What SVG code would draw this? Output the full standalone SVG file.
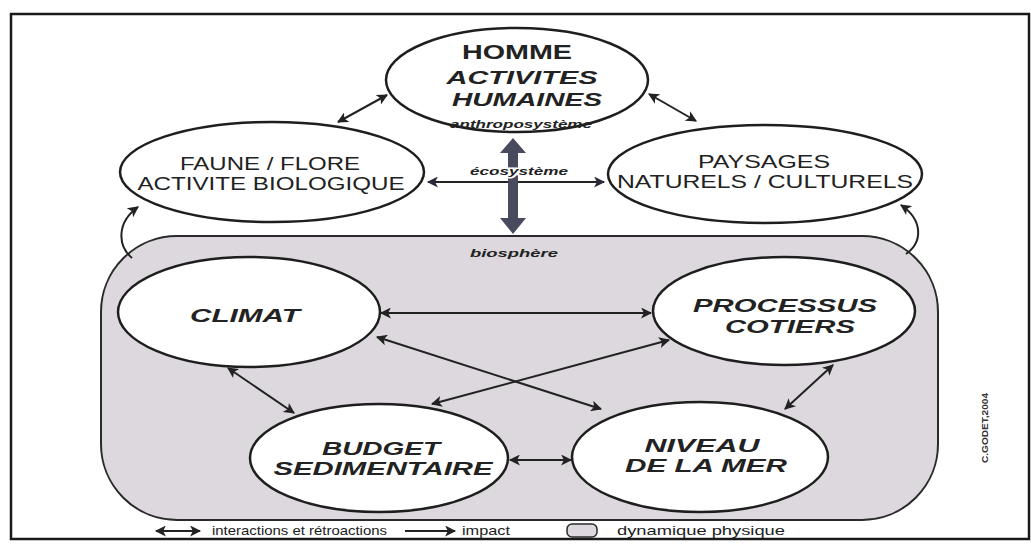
<svg xmlns="http://www.w3.org/2000/svg" width="1031" height="551" viewBox="0 0 1031 551">
<defs>
<marker id="ah" viewBox="0 0 10 10" refX="9" refY="5" markerUnits="userSpaceOnUse" markerWidth="16" markerHeight="11" orient="auto-start-reverse">
<path d="M0,0 L10,5 L0,10 L2.5,5 z" fill="#222"/>
</marker>
<marker id="ah2" viewBox="0 0 10 10" refX="9" refY="5" markerUnits="userSpaceOnUse" markerWidth="13" markerHeight="11" orient="auto-start-reverse">
<path d="M0,0 L10,5 L0,10 L2.5,5 z" fill="#2a2a3a"/>
</marker>
<style>
.el{fill:#fff;stroke:#1e1e1e;stroke-width:2.5}
.ln{fill:none;stroke:#222;stroke-width:2}
.t{font-family:"Liberation Sans",Arial,sans-serif;fill:#222;text-anchor:middle}
.bi{font-weight:bold;font-style:italic;font-size:19px}
.rg{font-size:18px}
.sm{font-family:"Liberation Sans",Arial,sans-serif;font-weight:bold;font-style:italic;font-size:10px;fill:#222;text-anchor:middle}
.lg{font-family:"Liberation Sans",Arial,sans-serif;font-size:13px;fill:#222}
</style>
</defs>
<rect x="11" y="14" width="1018" height="525" fill="#fff" stroke="#1a1a1a" stroke-width="2.5"/>
<g id="dynamique-physique">
<rect x="101" y="236" width="837" height="284" rx="76" ry="76" fill="#dcd8de" stroke="#2a2a2a" stroke-width="2"/>
<text class="sm" x="514" y="257" textLength="88" lengthAdjust="spacingAndGlyphs">biosphère</text>
</g>
<g id="connectors">
<line class="ln" x1="338" y1="122" x2="387" y2="95" marker-start="url(#ah)" marker-end="url(#ah)"/>
<line class="ln" x1="649" y1="94" x2="696" y2="121" marker-start="url(#ah)" marker-end="url(#ah)"/>
<line class="ln" x1="428" y1="182" x2="604" y2="182" stroke="#2a2a3a" marker-start="url(#ah2)" marker-end="url(#ah2)"/>
<path d="M508,152 L518,152 L518,218 L526,218 L513,234 L500,218 L508,218 Z M513,138 L526,153 L500,153 Z" fill="#4a4a5e"/>
<path class="ln" d="M132,258 C117,245 117,222 138,207" stroke-width="3" marker-end="url(#ah)"/>
<path class="ln" d="M906,254 C923,242 923,220 901,205" stroke-width="3" marker-end="url(#ah)"/>
<line class="ln" x1="381" y1="313" x2="651" y2="313" marker-start="url(#ah)" marker-end="url(#ah)"/>
<line class="ln" x1="377" y1="337" x2="601" y2="409" marker-start="url(#ah)" marker-end="url(#ah)"/>
<line class="ln" x1="432" y1="404" x2="669" y2="340" marker-start="url(#ah)" marker-end="url(#ah)"/>
<line class="ln" x1="228" y1="368" x2="294" y2="413" marker-start="url(#ah)" marker-end="url(#ah)"/>
<line class="ln" x1="833" y1="365" x2="785" y2="409" marker-start="url(#ah)" marker-end="url(#ah)"/>
<line class="ln" x1="510" y1="460" x2="571" y2="460" marker-start="url(#ah)" marker-end="url(#ah)"/>
</g>
<g id="homme">
<ellipse class="el" cx="517" cy="80" rx="131" ry="52"/>
<text class="t" x="517" y="59" font-size="20" font-weight="bold" textLength="110" lengthAdjust="spacingAndGlyphs">HOMME</text>
<text class="t bi" x="522" y="84" font-size="21" textLength="151" lengthAdjust="spacingAndGlyphs">ACTIVITES</text>
<text class="t bi" x="527" y="106" font-size="21" textLength="150" lengthAdjust="spacingAndGlyphs">HUMAINES</text>
<text class="sm" x="521" y="128" textLength="142" lengthAdjust="spacingAndGlyphs">anthroposystème</text>
</g>
<g id="faune">
<ellipse class="el" cx="272" cy="172" rx="152" ry="50"/>
<text class="t rg" x="270" y="170" textLength="180" lengthAdjust="spacingAndGlyphs">FAUNE / FLORE</text>
<text class="t rg" x="271" y="190" textLength="267" lengthAdjust="spacingAndGlyphs">ACTIVITE BIOLOGIQUE</text>
</g>
<g id="paysages">
<ellipse class="el" cx="765" cy="174" rx="157" ry="49"/>
<text class="t rg" x="764" y="168" textLength="132" lengthAdjust="spacingAndGlyphs">PAYSAGES</text>
<text class="t rg" x="765" y="188" textLength="296" lengthAdjust="spacingAndGlyphs">NATURELS / CULTURELS</text>
</g>
<text class="sm" x="519" y="175" textLength="98" lengthAdjust="spacingAndGlyphs" stroke="#fff" stroke-width="3" paint-order="stroke">écosystème</text>
<g id="climat">
<ellipse class="el" cx="249" cy="312" rx="131" ry="55"/>
<text class="t bi" x="245" y="322" textLength="110" lengthAdjust="spacingAndGlyphs">CLIMAT</text>
</g>
<g id="processus">
<ellipse class="el" cx="784" cy="311" rx="131" ry="54"/>
<text class="t bi" x="785" y="312" textLength="184" lengthAdjust="spacingAndGlyphs">PROCESSUS</text>
<text class="t bi" x="790" y="333" textLength="130" lengthAdjust="spacingAndGlyphs">COTIERS</text>
</g>
<g id="budget">
<ellipse class="el" cx="379" cy="458" rx="129" ry="54"/>
<text class="t bi" x="381" y="455" textLength="118" lengthAdjust="spacingAndGlyphs">BUDGET</text>
<text class="t bi" x="383" y="475" textLength="219" lengthAdjust="spacingAndGlyphs">SEDIMENTAIRE</text>
</g>
<g id="niveau">
<ellipse class="el" cx="700" cy="457" rx="128" ry="55"/>
<text class="t bi" x="702" y="452" textLength="115" lengthAdjust="spacingAndGlyphs">NIVEAU</text>
<text class="t bi" x="706" y="472" textLength="162" lengthAdjust="spacingAndGlyphs">DE LA MER</text>
</g>
<text x="988" y="463" transform="rotate(-90 988 463)" font-family="Liberation Sans Narrow, Liberation Sans, sans-serif" font-size="9" font-weight="bold" fill="#333" textLength="70" lengthAdjust="spacingAndGlyphs">C.GODET,2004</text>
<g id="legend">
<line class="ln" x1="156" y1="531" x2="200" y2="531" marker-start="url(#ah)" marker-end="url(#ah)"/>
<text class="lg" x="212" y="535" textLength="175" lengthAdjust="spacingAndGlyphs">interactions et rétroactions</text>
<line class="ln" x1="405" y1="531" x2="455" y2="531" marker-end="url(#ah)"/>
<text class="lg" x="462" y="535" textLength="48" lengthAdjust="spacingAndGlyphs">impact</text>
<rect x="567" y="524" width="30" height="13" rx="5" fill="#dcd8de" stroke="#2a2a2a" stroke-width="1.5"/>
<text class="lg" x="617" y="535" textLength="168" lengthAdjust="spacingAndGlyphs">dynamique physique</text>
</g>
</svg>
